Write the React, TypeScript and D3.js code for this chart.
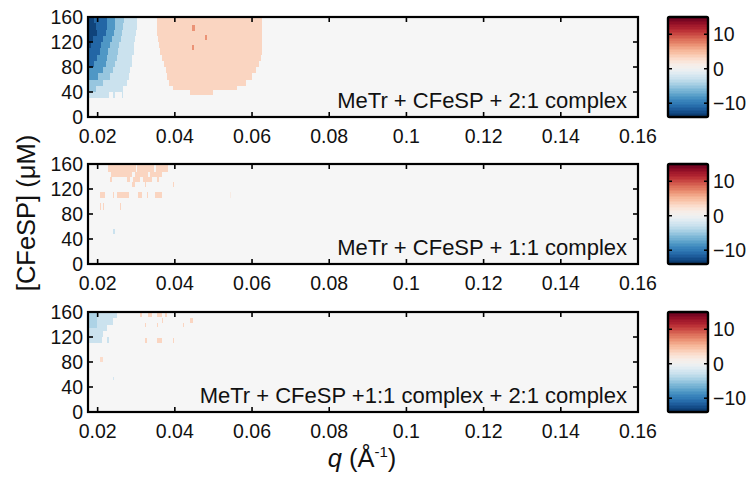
import React from "react";
import * as d3 from "d3";

// ---------- data ----------
const xTicks = [0.02, 0.04, 0.06, 0.08, 0.1, 0.12, 0.14, 0.16];
const xTickLabels = ["0.02", "0.04", "0.06", "0.08", "0.1", "0.12", "0.14", "0.16"];
const yTicks = [0, 40, 80, 120, 160];
const cbTicks = [10, 0, -10];
const cbTickLabels = ["10", "0", "\u221210"];
const panelLabels = [
  "MeTr + CFeSP + 2:1 complex",
  "MeTr + CFeSP + 1:1 complex",
  "MeTr + CFeSP +1:1 complex + 2:1 complex",
];
const qDomain = [0.0175, 0.16];
const concDomain = [0, 160];
const colorDomain = [-14, 15];

// cells: [cLow, cHigh, qStart, qEnd, value]
const panel1Cells: number[][] = [
  // blue (negative) region
  [150, 160, 0.0175, 0.019, -13], [150, 160, 0.019, 0.0225, -11], [150, 160, 0.0225, 0.0245, -8], [150, 160, 0.0245, 0.0268, -5], [150, 160, 0.0268, 0.0303, -2.5],
  [140, 150, 0.0175, 0.0195, -13], [140, 150, 0.0195, 0.0225, -11], [140, 150, 0.0225, 0.0245, -8], [140, 150, 0.0245, 0.0265, -5], [140, 150, 0.0265, 0.0302, -2.5],
  [130, 140, 0.0175, 0.0198, -13], [130, 140, 0.0198, 0.0222, -11], [130, 140, 0.0222, 0.0242, -8], [130, 140, 0.0242, 0.0262, -5], [130, 140, 0.0262, 0.03, -2.5],
  [120, 130, 0.0175, 0.0188, -13], [120, 130, 0.0188, 0.0215, -11], [120, 130, 0.0215, 0.0238, -8], [120, 130, 0.0238, 0.026, -5], [120, 130, 0.026, 0.0298, -2.5],
  [110, 120, 0.0175, 0.0183, -13], [110, 120, 0.0183, 0.0208, -11], [110, 120, 0.0208, 0.0232, -8], [110, 120, 0.0232, 0.0255, -5], [110, 120, 0.0255, 0.0295, -2.5],
  [100, 110, 0.0175, 0.0205, -11], [100, 110, 0.0205, 0.0228, -8], [100, 110, 0.0228, 0.0252, -5], [100, 110, 0.0252, 0.0293, -2.5],
  [90, 100, 0.0175, 0.0198, -11], [90, 100, 0.0198, 0.0225, -8], [90, 100, 0.0225, 0.025, -5], [90, 100, 0.025, 0.029, -2.5],
  [80, 90, 0.0175, 0.019, -11], [80, 90, 0.019, 0.0222, -8], [80, 90, 0.0222, 0.0245, -5], [80, 90, 0.0245, 0.0288, -2.5],
  [70, 80, 0.0175, 0.0215, -8], [70, 80, 0.0215, 0.024, -5], [70, 80, 0.024, 0.0285, -2.5],
  [60, 70, 0.0175, 0.02, -8], [60, 70, 0.02, 0.0232, -5], [60, 70, 0.0232, 0.028, -2.5],
  [50, 60, 0.0175, 0.0215, -5], [50, 60, 0.0215, 0.0275, -2.5],
  [40, 50, 0.0175, 0.0195, -5], [40, 50, 0.0195, 0.0265, -2.5],
  [30, 40, 0.0175, 0.023, -2.5], [30, 40, 0.024, 0.0244, -2.5], [30, 40, 0.0262, 0.0266, -2.5],
  // salmon (positive) region
  [150, 160, 0.0353, 0.0627, 3.5], [140, 150, 0.0354, 0.0627, 3.5], [130, 140, 0.0355, 0.0627, 3.5],
  [120, 130, 0.0357, 0.0627, 3.5], [110, 120, 0.036, 0.0627, 3.5], [100, 110, 0.0362, 0.0625, 3.5],
  [90, 100, 0.0366, 0.0622, 3.5], [80, 90, 0.0372, 0.0618, 3.5], [70, 80, 0.0376, 0.061, 3.5],
  [60, 70, 0.038, 0.06, 3.5], [50, 60, 0.0385, 0.0585, 3.5], [44, 50, 0.0395, 0.056, 3.5],
  [36, 44, 0.044, 0.05, 3.5],
  // darker specks
  [138, 147, 0.0445, 0.0451, 7], [123, 131, 0.0478, 0.0483, 7], [107, 115, 0.0445, 0.0449, 7],
];

const panel2Cells: number[][] = [
  [148, 160, 0.0228, 0.03, 3.5], [148, 160, 0.0303, 0.0345, 3.5], [148, 160, 0.035, 0.0382, 3.5],
  [140, 148, 0.0235, 0.029, 3.5], [140, 148, 0.0296, 0.033, 3.5], [140, 148, 0.0336, 0.0368, 3.5],
  [132, 140, 0.0232, 0.0236, 3.5], [132, 140, 0.0276, 0.0284, 3.5], [132, 140, 0.0292, 0.031, 3.5],
  [132, 140, 0.0318, 0.034, 3.5], [132, 140, 0.0354, 0.0358, 3.5],
  [124, 132, 0.029, 0.0296, 3.5], [124, 132, 0.0322, 0.0326, 3.5], [124, 132, 0.0396, 0.0399, 3.5],
  [106, 116, 0.0206, 0.0218, 3.5], [106, 116, 0.024, 0.0243, 3.5], [106, 116, 0.025, 0.028, 3.5],
  [106, 116, 0.0305, 0.0315, 3.5], [106, 116, 0.0328, 0.0331, 3.5], [106, 116, 0.0349, 0.0367, 3.5],
  [106, 116, 0.0543, 0.0546, 1.5],
  [86, 98, 0.0206, 0.0209, 3.5], [86, 98, 0.0214, 0.0217, 3.5], [86, 98, 0.0257, 0.0261, 3.5],
  [48, 56, 0.024, 0.0244, -2.5],
];

const panel3Cells: number[][] = [
  [150, 160, 0.0175, 0.025, -2.5], [140, 150, 0.0175, 0.024, -2.5], [130, 140, 0.0175, 0.0225, -2.5],
  [120, 130, 0.0175, 0.0215, -2.5], [110, 120, 0.0175, 0.021, -2.5], [110, 120, 0.0225, 0.0229, -2.5],
  [135, 160, 0.0175, 0.0198, -4],
  [152, 160, 0.031, 0.0315, 3.5], [152, 160, 0.0331, 0.0341, 3.5], [152, 160, 0.0354, 0.0367, 3.5], [152, 160, 0.0375, 0.038, 3.5],
  [143, 150, 0.044, 0.0447, 3.5], [143, 150, 0.0366, 0.0369, 3.5],
  [136, 142, 0.0323, 0.0326, 3.5], [136, 142, 0.0354, 0.0357, 3.5], [136, 142, 0.0421, 0.0424, 3.5],
  [110, 118, 0.0323, 0.0328, 3.5], [110, 118, 0.0354, 0.0367, 3.5], [110, 118, 0.0396, 0.0399, 3.5],
  [80, 88, 0.0206, 0.0214, 3],
  [51, 56, 0.024, 0.0243, -2],
];

const panelCells = [panel1Cells, panel2Cells, panel3Cells];

// ---------- layout ----------
const W = 751;
const H = 478;
const X0 = 88;
const X1 = 638;
const panelTops = [17, 164, 312];
const PH = 100;
const CB0 = 668;
const CB1 = 708;
const FONT = "'Liberation Sans', Arial, Helvetica, sans-serif";
const NEUTRAL = "#f6f6f6";

const color = d3.scaleSequential((t: number) => d3.interpolateRdBu(1 - t)).domain(colorDomain as [number, number]);
const x = d3.scaleLinear().domain(qDomain).range([X0, X1]);

function Panel({ idx }: { idx: number }) {
  const top = panelTops[idx];
  const bottom = top + PH;
  const y = d3.scaleLinear().domain(concDomain).range([bottom, top]);
  const cb = d3.scaleLinear().domain(colorDomain).range([bottom, top]);
  const nBands = 64;
  const bandVals = d3.range(nBands).map((i) => colorDomain[0] + ((i + 0.5) / nBands) * (colorDomain[1] - colorDomain[0]));
  const bandH = PH / nBands;
  return (
    <g>
      <rect x={X0} y={top} width={X1 - X0} height={PH} fill={NEUTRAL} />
      <g shapeRendering="crispEdges">
        {panelCells[idx].map((c, i) => (
          <rect
            key={i}
            x={x(c[2])}
            y={y(c[1])}
            width={Math.max(1, x(c[3]) - x(c[2]))}
            height={y(c[0]) - y(c[1])}
            fill={color(c[4])}
          />
        ))}
      </g>
      {/* ticks */}
      {xTicks.map((t, i) => (
        <g key={"xt" + i}>
          <line x1={x(t)} x2={x(t)} y1={bottom} y2={bottom - 5} stroke="#000" strokeWidth={1.6} />
          <line x1={x(t)} x2={x(t)} y1={top} y2={top + 5} stroke="#000" strokeWidth={1.6} />
          <text x={x(t)} y={bottom + 26} textAnchor="middle" fontSize={19.5} fontFamily={FONT} fill="#111">
            {xTickLabels[i]}
          </text>
        </g>
      ))}
      {yTicks.map((t, i) => (
        <g key={"yt" + i}>
          <line x1={X0} x2={X0 + 5} y1={y(t)} y2={y(t)} stroke="#000" strokeWidth={1.6} />
          <line x1={X1} x2={X1 - 5} y1={y(t)} y2={y(t)} stroke="#000" strokeWidth={1.6} />
          <text x={83} y={y(t) + 7} textAnchor="end" fontSize={19.5} fontFamily={FONT} fill="#111">
            {t}
          </text>
        </g>
      ))}
      <rect x={X0} y={top} width={X1 - X0} height={PH} fill="none" stroke="#000" strokeWidth={2.2} />
      <text x={627} y={top + 91} textAnchor="end" fontSize={22} fontFamily={FONT} fill="#111">
        {panelLabels[idx]}
      </text>
      {/* colorbar */}
      <g shapeRendering="crispEdges">
        {bandVals.map((v, i) => (
          <rect key={i} x={CB0} y={bottom - (i + 1) * bandH} width={CB1 - CB0} height={bandH + 0.6} fill={color(v)} />
        ))}
      </g>
      {cbTicks.map((t, i) => (
        <g key={"cb" + i}>
          <line x1={CB0} x2={CB0 + 4} y1={cb(t)} y2={cb(t)} stroke="#000" strokeWidth={1.5} />
          <line x1={CB1} x2={CB1 - 4} y1={cb(t)} y2={cb(t)} stroke="#000" strokeWidth={1.5} />
          <text x={CB1 + 5} y={cb(t) + 7} textAnchor="start" fontSize={19.5} fontFamily={FONT} fill="#111">
            {cbTickLabels[i]}
          </text>
        </g>
      ))}
      <rect x={CB0} y={top} width={CB1 - CB0} height={PH} fill="none" stroke="#000" strokeWidth={2.4} rx={1.5} />
    </g>
  );
}

export default function App() {
  return (
    <svg
      width={W}
      height={H}
      viewBox={`0 0 ${W} ${H}`}
      style={{ position: "absolute", left: 0, top: 0, background: "#fff" }}
    >
      <rect x={0} y={0} width={W} height={H} fill="#fff" />
      {[0, 1, 2].map((i) => (
        <Panel key={i} idx={i} />
      ))}
      <text
        transform="translate(35,213) rotate(-90)"
        textAnchor="middle"
        fontSize={25.5}
        fontFamily={FONT}
        fill="#111"
      >
        [CFeSP] (μM)
      </text>
      <text x={362} y={467} textAnchor="middle" fontSize={25.5} fontFamily={FONT} fill="#111">
        <tspan fontStyle="italic">q</tspan>
        <tspan> (Å</tspan>
        <tspan fontSize={15} dy={-10}>-1</tspan>
        <tspan dy={10}>)</tspan>
      </text>
    </svg>
  );
}
